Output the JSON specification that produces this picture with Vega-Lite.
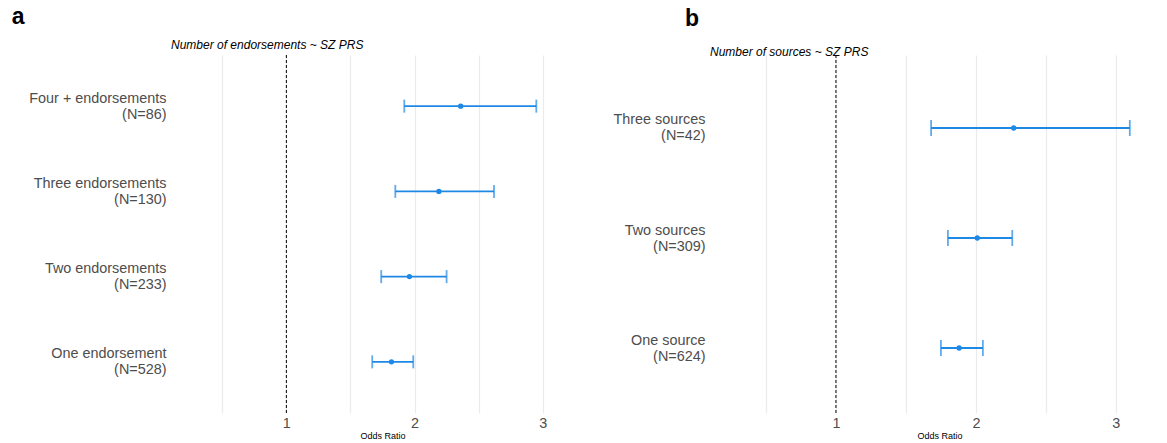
{
  "$schema": "https://vega.github.io/schema/vega-lite/v6.json",
  "background": "white",
  "padding": {"left": 11, "top": 6, "right": 0, "bottom": 0},
  "spacing": 19,
  "config": {
    "view": {"stroke": null},
    "font": "Liberation Sans",
    "axis": {
      "domain": false,
      "ticks": false,
      "gridColor": "#EBEBEB",
      "gridWidth": 1.2,
      "labelColor": "#4D4D4D",
      "labelFont": "Liberation Sans",
      "labelFontSize": 14.4,
      "titleFont": "Liberation Sans",
      "titleFontWeight": "normal",
      "titleColor": "black"
    },
    "axisX": {"labelPadding": 3, "titleFontSize": 9, "titlePadding": 2},
    "axisY": {"labelPadding": 5, "labelLineHeight": 16, "labelOffset": -8}
  },
  "datasets": {
    "endorse": [
      {"group": "Four + endorsements\n(N=86)", "rank": 4, "or": 2.36, "lo": 1.92, "hi": 2.95},
      {"group": "Three endorsements\n(N=130)", "rank": 3, "or": 2.19, "lo": 1.85, "hi": 2.62},
      {"group": "Two endorsements\n(N=233)", "rank": 2, "or": 1.96, "lo": 1.74, "hi": 2.25},
      {"group": "One endorsement\n(N=528)", "rank": 1, "or": 1.82, "lo": 1.67, "hi": 1.99}
    ],
    "sources": [
      {"group": "Three sources\n(N=42)", "rank": 3, "or": 2.27, "lo": 1.68, "hi": 3.10},
      {"group": "Two sources\n(N=309)", "rank": 2, "or": 2.01, "lo": 1.80, "hi": 2.26},
      {"group": "One source\n(N=624)", "rank": 1, "or": 1.88, "lo": 1.75, "hi": 2.05}
    ],
    "reference": [{"ref": 1}]
  },
  "hconcat": [
    {
      "title": {"text": "a", "anchor": "start", "frame": "bounds", "fontSize": 23, "fontWeight": "bold", "color": "black", "dx": -17, "offset": 9.2},
      "vconcat": [
        {
          "width": 423,
          "height": 358,
          "title": {"text": "Number of endorsements ~ SZ PRS", "anchor": "start", "frame": "group", "fontSize": 12, "fontStyle": "italic", "fontWeight": "normal", "color": "black", "offset": 3},
          "layer": [
            {
              "data": {"name": "reference"},
              "mark": {"type": "rule", "color": "black", "strokeDash": [3, 2], "strokeWidth": 1},
              "encoding": {
                "x": {"field": "ref", "type": "quantitative", "title": "Odds Ratio",
                  "scale": {"domain": [0.1, 3.4], "nice": false, "zero": false},
                  "axis": {"values": [0.5, 1, 1.5, 2, 2.5, 3], "labelExpr": "datum.value % 1 === 0 ? format(datum.value, 'd') : ''"}}
              }
            },
            {
              "data": {"name": "endorse"},
              "mark": {"type": "rule", "color": "#1E88E5", "strokeWidth": 1.8},
              "encoding": {
                "y": {"field": "group", "type": "nominal", "title": null, "sort": {"field": "rank", "order": "descending"},
                  "scale": {"type": "point", "padding": 0.6},
                  "axis": {"labelExpr": "split(datum.label, '\\n')"}},
                "x": {"field": "lo", "type": "quantitative", "title": "Odds Ratio"},
                "x2": {"field": "hi"}
              }
            },
            {
              "data": {"name": "endorse"},
              "mark": {"type": "tick", "color": "#1E88E5", "thickness": 1.8, "size": 13, "orient": "vertical"},
              "encoding": {
                "y": {"field": "group", "type": "nominal", "title": null, "sort": {"field": "rank", "order": "descending"}},
                "x": {"field": "lo", "type": "quantitative", "title": "Odds Ratio"}
              }
            },
            {
              "data": {"name": "endorse"},
              "mark": {"type": "tick", "color": "#1E88E5", "thickness": 1.8, "size": 13, "orient": "vertical"},
              "encoding": {
                "y": {"field": "group", "type": "nominal", "title": null, "sort": {"field": "rank", "order": "descending"}},
                "x": {"field": "hi", "type": "quantitative", "title": "Odds Ratio"}
              }
            },
            {
              "data": {"name": "endorse"},
              "mark": {"type": "point", "filled": true, "color": "#1E88E5", "size": 28, "opacity": 1},
              "encoding": {
                "y": {"field": "group", "type": "nominal", "title": null, "sort": {"field": "rank", "order": "descending"}},
                "x": {"field": "or", "type": "quantitative", "title": "Odds Ratio"}
              }
            }
          ]
        }
      ]
    },
    {
      "title": {"text": "b", "anchor": "start", "frame": "bounds", "fontSize": 23, "fontWeight": "bold", "color": "black", "dx": 72, "offset": 14.7},
      "vconcat": [
        {
          "width": 459,
          "height": 358,
          "title": {"text": "Number of sources ~ SZ PRS", "anchor": "start", "frame": "group", "fontSize": 12, "fontStyle": "italic", "fontWeight": "normal", "color": "black", "offset": -4.4},
          "layer": [
            {
              "data": {"name": "reference"},
              "mark": {"type": "rule", "color": "black", "strokeDash": [3, 2], "strokeWidth": 1},
              "encoding": {
                "x": {"field": "ref", "type": "quantitative", "title": "Odds Ratio",
                  "scale": {"domain": [0.1, 3.38], "nice": false, "zero": false},
                  "axis": {"values": [0.5, 1, 1.5, 2, 2.5, 3], "labelExpr": "datum.value % 1 === 0 ? format(datum.value, 'd') : ''"}}
              }
            },
            {
              "data": {"name": "sources"},
              "mark": {"type": "rule", "color": "#1E88E5", "strokeWidth": 1.8},
              "encoding": {
                "y": {"field": "group", "type": "nominal", "title": null, "sort": {"field": "rank", "order": "descending"},
                  "scale": {"type": "point", "padding": 0.627, "align": 0.529},
                  "axis": {"labelExpr": "split(datum.label, '\\n')"}},
                "x": {"field": "lo", "type": "quantitative", "title": "Odds Ratio"},
                "x2": {"field": "hi"}
              }
            },
            {
              "data": {"name": "sources"},
              "mark": {"type": "tick", "color": "#1E88E5", "thickness": 1.8, "size": 16, "orient": "vertical"},
              "encoding": {
                "y": {"field": "group", "type": "nominal", "title": null, "sort": {"field": "rank", "order": "descending"}},
                "x": {"field": "lo", "type": "quantitative", "title": "Odds Ratio"}
              }
            },
            {
              "data": {"name": "sources"},
              "mark": {"type": "tick", "color": "#1E88E5", "thickness": 1.8, "size": 16, "orient": "vertical"},
              "encoding": {
                "y": {"field": "group", "type": "nominal", "title": null, "sort": {"field": "rank", "order": "descending"}},
                "x": {"field": "hi", "type": "quantitative", "title": "Odds Ratio"}
              }
            },
            {
              "data": {"name": "sources"},
              "mark": {"type": "point", "filled": true, "color": "#1E88E5", "size": 28, "opacity": 1},
              "encoding": {
                "y": {"field": "group", "type": "nominal", "title": null, "sort": {"field": "rank", "order": "descending"}},
                "x": {"field": "or", "type": "quantitative", "title": "Odds Ratio"}
              }
            }
          ]
        }
      ]
    }
  ]
}
